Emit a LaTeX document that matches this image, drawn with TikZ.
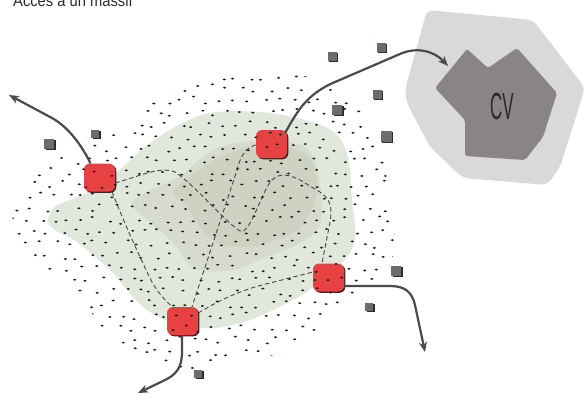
\documentclass[tikz,border=0pt]{standalone}
\usepackage{fontspec}
\usepackage{graphicx}
\setmainfont{Liberation Sans}
\usetikzlibrary{arrows.meta,shadows}
\pgfdeclarelayer{blobs}
\pgfdeclarelayer{trails}
\pgfsetlayers{blobs,trails,main}
\definecolor{nodered}{HTML}{E84142}
\definecolor{sqc}{HTML}{6F6A6E}
\definecolor{sqd}{HTML}{2F2B2D}
\definecolor{arrc}{HTML}{4A4A4A}
\definecolor{dashc}{HTML}{454545}
\definecolor{gOut}{HTML}{E2E7DC}
\definecolor{gMid}{HTML}{D7DBCE}
\definecolor{gIn}{HTML}{CDD2C3}
\definecolor{cvOut}{HTML}{D9D9D9}
\definecolor{cvIn}{HTML}{898586}
\definecolor{dotc}{HTML}{1A1A1A}
\definecolor{txtc}{HTML}{2A2A2A}
\tikzset{
  rednode/.style={rectangle, rounded corners=6pt, minimum width=31pt, minimum height=28pt,
    inner sep=0pt, fill=nodered, draw=none,
    drop shadow={shadow xshift=1.3pt, shadow yshift=-1.3pt, fill=sqd, opacity=1}},
  flow/.style={draw=arrc, line width=2.2pt, -{Stealth[length=10pt,width=8pt,inset=3pt]}},
  trail/.style={draw=dashc, line width=0.9pt, dash pattern=on 4.5pt off 2.8pt},
}
\newcommand{\graysq}[3]{%
  \fill[sqd] (#1-#3/2+1.5,#2-#3/2+1) rectangle (#1+#3/2+1.5,#2+#3/2+1);
  \fill[sqc] (#1-#3/2,#2-#3/2) rectangle (#1+#3/2,#2+#3/2);}
\begin{document}
\begin{tikzpicture}[x=1pt,y=-1pt]
\useasboundingbox (0,0) rectangle (585,394);
\clip (0,0) rectangle (585,394);

% title
\node[anchor=base west, inner sep=0pt, text=txtc] (title) at (13,6)
  {\fontsize{16}{16}\selectfont\scalebox{0.92}[1]{Accès à un massif}};

% CV zone
\fill[cvOut, rounded corners=6pt] (427,10) -- (533,20) -- (585,88) -- (560,167) -- (547,185)
  -- (463,178) -- (430,147) -- (407,103) -- (405,90) -- cycle;
\fill[cvIn, rounded corners=2pt] (435,88) -- (467,49) -- (488,68) -- (517,48) -- (557,93)
  -- (543,137) -- (525,160) -- (465,156) -- (465,120) -- cycle;
\node[inner sep=0pt, text=txtc] (cv) at (502,107)
  {\fontsize{37.7}{40}\selectfont\scalebox{0.45}[1]{CV}};

% green blobs
\begin{pgfonlayer}{blobs}
\fill[white] (0,0) rectangle (585,394);
\fill[gOut] plot[smooth cycle, tension=0.6] coordinates {(48,220) (56,206) (80,196) (110,178) (145,147)
  (175,127) (210,113) (260,112) (305,120) (335,133) (348,158) (352,200) (355,238) (343,262)
  (312,288) (293,300) (250,320) (215,328) (185,326) (165,320) (143,307) (127,290) (110,270)
  (77,242) (55,230)};
\fill[gMid] plot[smooth cycle, tension=0.6] coordinates {(132,205) (145,193) (177,178) (203,157)
  (222,146) (255,141) (297,144) (313,156) (320,185) (322,212) (317,230) (300,243) (267,257)
  (233,270) (200,270) (185,260) (175,245) (150,222)};
\fill[gIn] plot[smooth cycle, tension=0.6] coordinates {(173,192) (187,180) (210,163) (237,150)
  (267,147) (297,150) (312,162) (317,187) (313,207) (297,230) (267,243) (243,247) (217,243)
  (200,227) (187,207)};
\end{pgfonlayer}

% red nodes
\node[rednode] (A) at (99.5,177.5) {};
\node[rednode] (B) at (271.5,144) {};
\node[rednode] (C) at (328.5,277.5) {};
\node[rednode] (D) at (182.5,321) {};

% dashed trails (under the nodes)
\begin{pgfonlayer}{trails}
\draw[trail] ([yshift=-5.5pt]A.east) .. controls (140,176) and (160,166) .. (175,172)
  .. controls (195,185) and (225,222) .. (240,231)
  .. controls (250,236) and (262,190) .. (272,180)
  .. controls (280,172) and (290,175) .. (300,180) -- (320,192)
  .. controls (332,200) and (332,210) .. (330,222) -- ([xshift=-6.5pt]C.north);
\draw[trail] ([xshift=12.5pt]A.south) .. controls (125,225) and (142,262) .. (152,282)
  .. controls (158,293) and (165,300) .. ([xshift=-10.5pt]D.north);
\draw[trail] ([yshift=-1pt]B.west) .. controls (246,147) and (240,157) .. (237,170) -- ([xshift=9.5pt]D.north);
\draw[trail] ([yshift=8pt]D.east) .. controls (220,300) and (240,290) .. (270,283) -- ([yshift=5.5pt]C.west);
\end{pgfonlayer}

% dots
\begin{scope}
\clip plot[smooth cycle, tension=0.7] coordinates {(13,217) (30,185) (60,158) (120,128) (160,95)
  (200,83) (250,73) (300,75) (335,90) (362,110) (380,140) (388,190) (394,250) (377,283)
  (347,306) (310,335) (283,352) (238,362) (190,369) (150,357) (105,330) (78,292) (40,264) (12,242)};
\pgfmathsetseed{4242}
\foreach \i in {0,...,28} {
  \foreach \j in {0,...,26} {
    \pgfmathsetmacro\xx{5+14*\i+7*mod(\j,2)+4.5*rand}
    \pgfmathsetmacro\yy{64+12*\j+4*rand}
    \fill[dotc] (\xx,\yy) ellipse[x radius=1.7pt, y radius=1pt];
  }
}
\end{scope}

% arrows
\draw[flow] ([xshift=-9pt]A.north) .. controls (83,148) and (70,128) .. (52,118) -- (9,95);
\draw[flow] ([xshift=-2pt,yshift=-3pt]B.north east) .. controls (298,110) and (307,94) .. (335,82)
  -- (400,54) .. controls (418,46) and (435,52) .. (448,66);
\draw[flow] ([yshift=-8.5pt]C.east) -- (390,286) .. controls (405,286) and (412,292) .. (415,305) -- (425,352);
\draw[flow] ([xshift=-0.5pt]D.south) -- (182,352) .. controls (182,368) and (176,375) .. (163,381) -- (138,393);

% gray squares
\graysq{49}{144}{10}
\graysq{95}{134}{8}
\graysq{396}{271}{10}
\graysq{369}{307}{8}
\graysq{198}{374}{8}
\graysq{332}{56}{9}
\graysq{381}{47}{9}
\graysq{377}{94}{9}
\graysq{337}{110}{10}
\graysq{386}{136}{11}
\end{tikzpicture}
\end{document}
